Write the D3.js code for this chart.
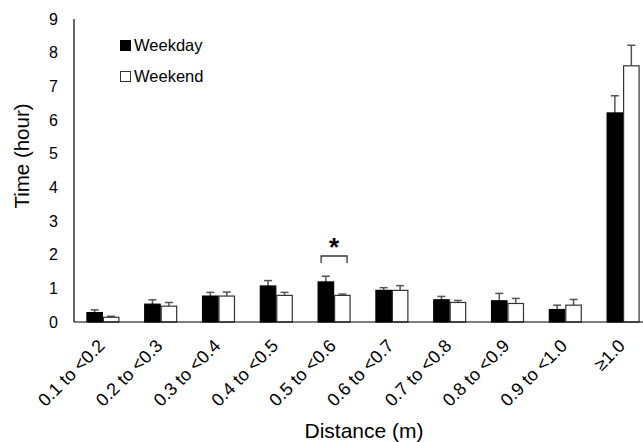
<!DOCTYPE html>
<html>
<head>
<meta charset="utf-8">
<script src="https://cdn.jsdelivr.net/npm/d3@7"></script>
<style>
  body { margin: 0; background: #fff; }
  text { font-family: "Liberation Sans", Arial, sans-serif; }
</style>
</head>
<body>
<svg id="chart" width="643" height="442"></svg>
<script>
// data
const categories = ["0.1 to <0.2", "0.2 to <0.3", "0.3 to <0.4", "0.4 to <0.5", "0.5 to <0.6",
                    "0.6 to <0.7", "0.7 to <0.8", "0.8 to <0.9", "0.9 to <1.0", "\u22651.0"];
const seriesNames = ["Weekday", "Weekend"];
const weekday    = [0.28, 0.53, 0.77, 1.07, 1.19, 0.94, 0.66, 0.63, 0.37, 6.21];
const weekdayErr = [0.08, 0.13, 0.11, 0.16, 0.17, 0.08, 0.10, 0.22, 0.13, 0.51];
const weekend    = [0.14, 0.47, 0.77, 0.79, 0.79, 0.94, 0.58, 0.55, 0.50, 7.61];
const weekendErr = [0.03, 0.11, 0.12, 0.09, 0.04, 0.14, 0.06, 0.15, 0.17, 0.61];
const yTicks = [0, 1, 2, 3, 4, 5, 6, 7, 8, 9];
const sigIndex = 4; // the starred pair

const svg = d3.select("#chart");
const plotL = 74, plotR = 652, plotT = 19, plotB = 322;

const x0 = d3.scaleBand().domain(categories).range([plotL, plotR])
  .paddingInner(0.43).paddingOuter(0.215);
const x1 = d3.scaleBand().domain(seriesNames).range([0, x0.bandwidth()]);
const y = d3.scaleLinear().domain([0, 9]).range([plotB, plotT]);

const rows = categories.map((c, i) => ({
  cat: c,
  vals: [
    {s: "Weekday", v: weekday[i], e: weekdayErr[i]},
    {s: "Weekend", v: weekend[i], e: weekendErr[i]}
  ]
}));

const fill = {Weekday: "#000", Weekend: "#fff"};

// error bars (drawn under bars)
const groups = svg.append("g").selectAll("g").data(rows).join("g")
  .attr("transform", d => `translate(${x0(d.cat)},0)`);

groups.selectAll("g.err").data(d => d.vals).join("g").attr("class", "err")
  .each(function(d) {
    const g = d3.select(this);
    const cx = x1(d.s) + x1.bandwidth() / 2;
    g.append("line").attr("x1", cx).attr("x2", cx)
      .attr("y1", y(d.v)).attr("y2", y(d.v + d.e))
      .attr("stroke", "#555").attr("stroke-width", 1.5);
    g.append("line").attr("x1", cx - 4).attr("x2", cx + 4)
      .attr("y1", y(d.v + d.e)).attr("y2", y(d.v + d.e))
      .attr("stroke", "#555").attr("stroke-width", 1.5);
  });

groups.selectAll("rect").data(d => d.vals).join("rect")
  .attr("x", d => x1(d.s) + 0.5)
  .attr("width", x1.bandwidth() - 1)
  .attr("y", d => y(d.v))
  .attr("height", d => y(0) - y(d.v))
  .attr("fill", d => fill[d.s])
  .attr("stroke", d => d.s === "Weekday" ? "#000" : "#333")
  .attr("stroke-width", 1.2);

// axes
svg.append("line").attr("x1", plotL).attr("x2", 643).attr("y1", plotB).attr("y2", plotB)
  .attr("stroke", "#000").attr("stroke-width", 1.2);
svg.append("line").attr("x1", plotL).attr("x2", plotL).attr("y1", plotT).attr("y2", plotB)
  .attr("stroke", "#000").attr("stroke-width", 1.2);

svg.append("g").selectAll("text").data(yTicks).join("text")
  .attr("x", 58).attr("y", d => y(d)).attr("dy", "0.35em")
  .attr("text-anchor", "end").attr("font-size", 16).text(d => d);

svg.append("g").selectAll("text").data(categories).join("text")
  .attr("transform", d => `translate(${x0(d) + x0.bandwidth() / 2 + 3},347) rotate(-45)`)
  .attr("text-anchor", "end").attr("font-size", 18).text(d => d);

// titles
svg.append("text").attr("transform", "translate(29,156) rotate(-90)")
  .attr("text-anchor", "middle").attr("font-size", 20.5).text("Time (hour)");
svg.append("text").attr("x", (plotL + plotR) / 2 + 1).attr("y", 438)
  .attr("text-anchor", "middle").attr("font-size", 21).text("Distance (m)");

// significance bracket
const bx = x0(categories[sigIndex]);
const bw = x0.bandwidth();
svg.append("path")
  .attr("d", `M${bx + 3.5},263V256H${bx + bw - 3.5}V263`)
  .attr("fill", "none").attr("stroke", "#333").attr("stroke-width", 1.3);
svg.append("text").attr("x", bx + bw / 2).attr("y", 256)
  .attr("text-anchor", "middle").attr("font-size", 26).attr("font-weight", "bold").text("*");

// legend
const legend = svg.append("g").selectAll("g").data(seriesNames).join("g")
  .attr("transform", (d, i) => `translate(120,${40 + i * 31})`);
legend.append("rect").attr("x", 0.5).attr("y", 0.5).attr("width", 10).attr("height", 10)
  .attr("fill", d => fill[d]).attr("stroke", d => d === "Weekday" ? "#000" : "#333");
legend.append("text").attr("x", 14).attr("y", 10.5).attr("font-size", 16.5).text(d => d);
</script>
</body>
</html>
